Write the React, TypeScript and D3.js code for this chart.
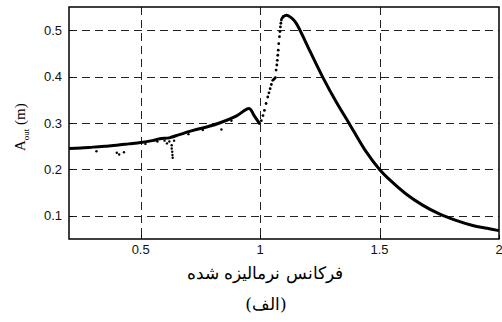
import React from 'react';
import * as d3 from 'd3';

// values
const xTicks = [0.5, 1, 1.5, 2];
const yTicks = [0.1, 0.2, 0.3, 0.4, 0.5];

// below resonance: noisy but continuous band
const lowBranch: [number, number][] = [
  [0.2, 0.245], [0.25, 0.246], [0.3, 0.248], [0.35, 0.25], [0.4, 0.252],
  [0.45, 0.255], [0.5, 0.258], [0.55, 0.262], [0.58, 0.266], [0.62, 0.268],
  [0.65, 0.273], [0.72, 0.284], [0.78, 0.292], [0.83, 0.3], [0.9, 0.315],
  [0.955, 0.331], [0.975, 0.316], [1.0, 0.297]
];

// jump region, drawn as sparse dots
const jumpDots: [number, number][] = [
  [1.005, 0.305], [1.012, 0.316], [1.018, 0.327], [1.025, 0.342], [1.032, 0.356],
  [1.037, 0.365], [1.042, 0.374], [1.047, 0.383], [1.053, 0.392], [1.057, 0.394],
  [1.061, 0.396], [1.064, 0.398], [1.067, 0.414], [1.07, 0.425], [1.072, 0.435],
  [1.074, 0.446], [1.076, 0.457], [1.078, 0.471], [1.081, 0.486], [1.083, 0.497],
  [1.085, 0.507], [1.087, 0.515], [1.089, 0.522], [1.092, 0.526], [1.096, 0.529]
];

// above resonance: smooth decay
const highBranch: [number, number][] = [
  [1.096, 0.529], [1.111, 0.532], [1.13, 0.527], [1.15, 0.516], [1.2, 0.464],
  [1.262, 0.399], [1.32, 0.344], [1.374, 0.298], [1.44, 0.241], [1.5, 0.2],
  [1.55, 0.174], [1.611, 0.147], [1.68, 0.123], [1.75, 0.104], [1.82, 0.09],
  [1.89, 0.079], [1.95, 0.073], [2.0, 0.068]
];

// stray points off the band
const strayDots: [number, number][] = [
  [0.315, 0.239], [0.4, 0.236], [0.41, 0.232], [0.43, 0.237], [0.52, 0.255],
  [0.57, 0.26], [0.6, 0.262], [0.61, 0.256], [0.62, 0.26], [0.63, 0.252],
  [0.63, 0.245], [0.632, 0.238], [0.633, 0.231], [0.634, 0.225], [0.64, 0.262],
  [0.7, 0.276], [0.76, 0.285], [0.838, 0.286], [0.88, 0.305]
];

const W = 502, H = 322;
const left = 69, right = 499, top = 7, bottom = 239;

export default function App() {
  const x = d3.scaleLinear().domain([0.2, 2]).range([left, right]);
  const y = d3.scaleLinear().domain([0.05, 0.55]).range([bottom, top]);
  const line = d3.line<[number, number]>()
    .x(d => x(d[0]))
    .y(d => y(d[1]))
    .curve(d3.curveCatmullRom);
  const px = (v: number) => Math.round(v) + 0.5;

  const tickFont = 'Liberation Sans, Arial, sans-serif';

  return (
    <svg width={W} height={H} style={{ position: 'absolute', left: 0, top: 0, background: '#fff' }}>
      {/* grid */}
      {xTicks.filter(t => t < 2).map(t => (
        <line key={'gx' + t} x1={px(x(t))} x2={px(x(t))} y1={top} y2={bottom}
          stroke="#222" strokeWidth={1} strokeDasharray="8,5" />
      ))}
      {yTicks.map(t => (
        <line key={'gy' + t} x1={left} x2={right} y1={px(y(t))} y2={px(y(t))}
          stroke="#222" strokeWidth={1} strokeDasharray="8,5" />
      ))}

      {/* data */}
      <path d={line(lowBranch) || ''} fill="none" stroke="#000" strokeWidth={3} />
      <path d={line(highBranch) || ''} fill="none" stroke="#000" strokeWidth={3} />
      {jumpDots.map((d, i) => (
        <circle key={'j' + i} cx={x(d[0])} cy={y(d[1])} r={1.4} fill="#000" />
      ))}
      {strayDots.map((d, i) => (
        <circle key={'s' + i} cx={x(d[0])} cy={y(d[1])} r={1.2} fill="#000" />
      ))}

      {/* frame */}
      <rect x={left} y={top} width={right - left} height={bottom - top}
        fill="none" stroke="#000" strokeWidth={1.5} />
      {xTicks.map(t => (
        <line key={'tx' + t} x1={px(x(t))} x2={px(x(t))} y1={bottom} y2={bottom - 4} stroke="#000" />
      ))}
      {yTicks.map(t => (
        <line key={'ty' + t} x1={left} x2={left + 4} y1={px(y(t))} y2={px(y(t))} stroke="#000" />
      ))}

      {/* tick labels */}
      {xTicks.map(t => (
        <text key={'lx' + t} x={x(t)} y={bottom + 15} textAnchor="middle"
          fontFamily={tickFont} fontSize={13} fill="#111">{t}</text>
      ))}
      {yTicks.map(t => (
        <text key={'ly' + t} x={left - 7} y={y(t) + 4.5} textAnchor="end"
          fontFamily={tickFont} fontSize={13} fill="#111">{t}</text>
      ))}

      {/* axis titles */}
      <text transform="translate(25,151) rotate(-90)" fontFamily="Liberation Serif, serif" fontSize={15} fill="#000">
        A<tspan fontSize={9} dy={4}>out</tspan><tspan dy={-4}> (m)</tspan>
      </text>
      <text x={265} y={279} textAnchor="middle" fontFamily="DejaVu Serif, Liberation Serif, serif"
        fontSize={17} fill="#000" direction="rtl">فرکانس نرمالیزه شده</text>
      <text x={266} y={310} textAnchor="middle" fontFamily="DejaVu Serif, Liberation Serif, serif"
        fontSize={17} fill="#000" direction="rtl">(الف)</text>
    </svg>
  );
}
